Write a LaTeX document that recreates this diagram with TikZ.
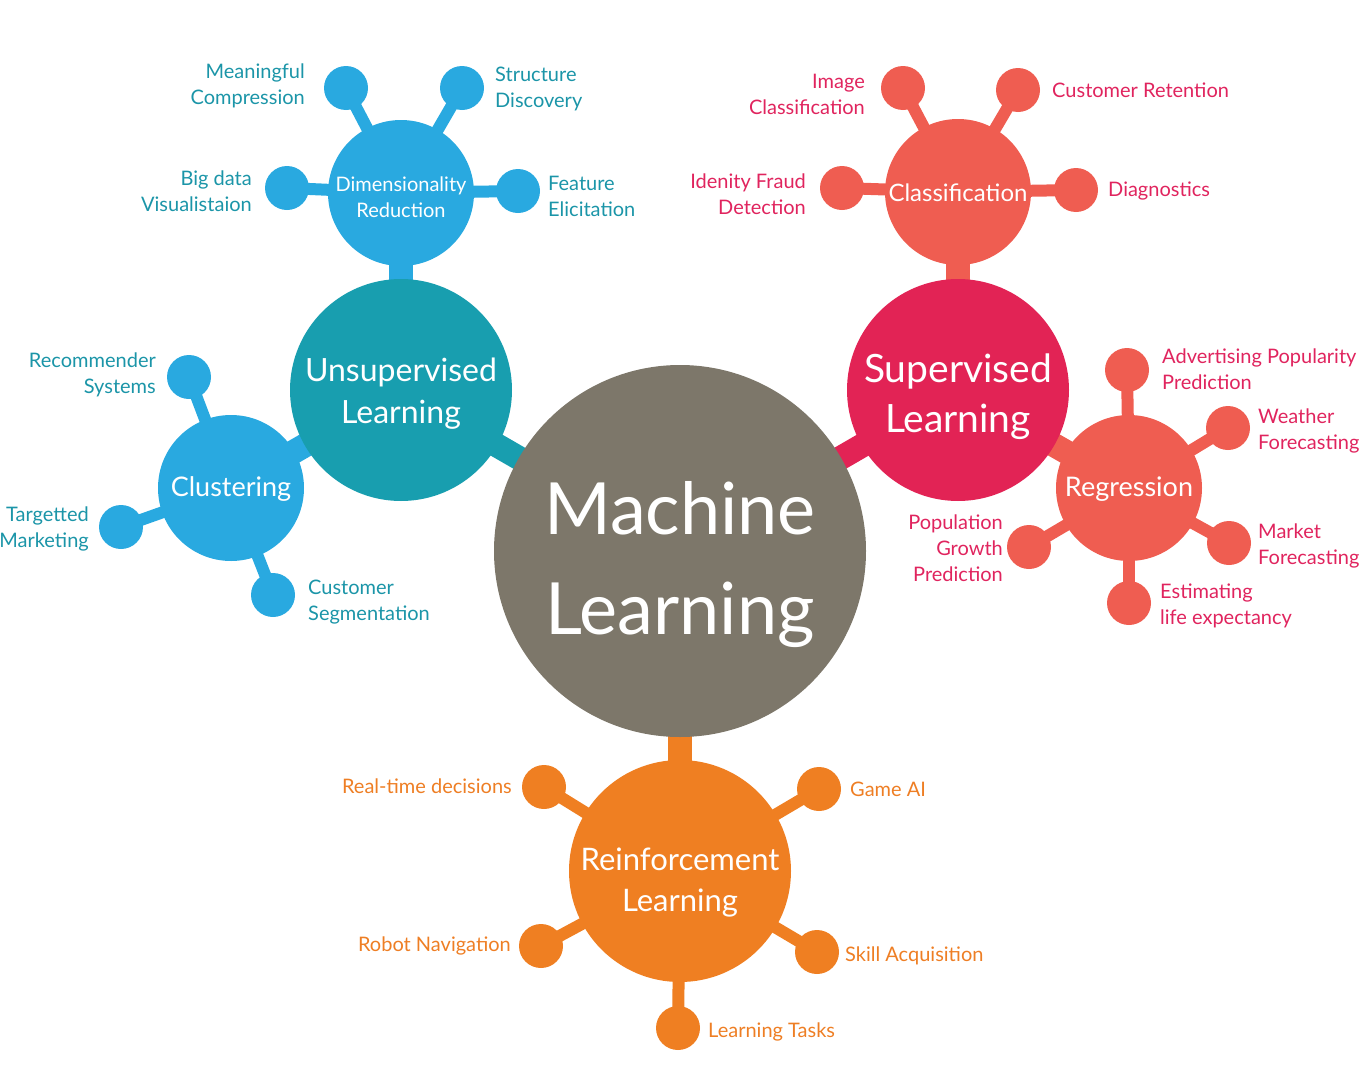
\documentclass[tikz,border=0pt]{standalone}
\usepackage{fontspec}
\setmainfont{Lato}
\usetikzlibrary{backgrounds}
\definecolor{mlgray}{HTML}{7D776A}
\definecolor{ulteal}{HTML}{189EAF}
\definecolor{ltblue}{HTML}{29A9E0}
\definecolor{tealtxt}{HTML}{1B95A8}
\definecolor{crim}{HTML}{E22355}
\definecolor{salmon}{HTML}{EF5D51}
\definecolor{crimtxt}{HTML}{E0245E}
\definecolor{orng}{HTML}{EF7F22}
\definecolor{orngtxt}{HTML}{EE7E24}
\tikzset{
  ball/.style={circle, inner sep=0pt},
  intext/.style={inner sep=0pt, text=white, align=center},
  dot/.style={circle, inner sep=0pt, minimum size=44pt},
  lbl/.style={inner sep=0pt, font=\fontsize{20}{26}\selectfont},
  lblL/.style={lbl, anchor=west, align=left},
  lblR/.style={lbl, anchor=east, align=right},
  bar/.style={line width=24pt},
  twig/.style={line width=12pt},
}
\begin{document}
\begin{tikzpicture}[x=1pt,y=-1pt]
\useasboundingbox (0,0) rectangle (1361,1071);
% main circles
\node[ball, fill=mlgray, minimum size=372pt] (ml) at (680,551) {};
\node[ball, fill=ulteal, minimum size=222pt] (ul) at (401,390) {};
\node[ball, fill=crim, minimum size=222pt] (sl) at (958,390) {};
\node[ball, fill=orng, minimum size=222pt] (rl) at (680,871) {};
\node[intext, font=\fontsize{72}{100}\selectfont] (mlt) at ([yshift=-14pt]ml.center) {Machine\\Learning};
\node[intext, font=\fontsize{32}{42}\selectfont] (ult) at ([yshift=-4pt]ul.center) {Unsupervised\\Learning};
\node[intext, font=\fontsize{39}{50}\selectfont] (slt) at ([yshift=-7pt]sl.center) {Supervised\\Learning};
\node[intext, font=\fontsize{31}{41}\selectfont] (rlt) at ([yshift=-12pt]rl.center) {Reinforcement\\Learning};
% sub circles
\node[ball, fill=ltblue, minimum size=146pt] (dr) at (401,193) {};
\node[ball, fill=ltblue, minimum size=146pt] (cl) at (231,488) {};
\node[ball, fill=salmon, minimum size=146pt] (cf) at (958,192) {};
\node[ball, fill=salmon, minimum size=146pt] (rg) at (1129,488) {};
\node[intext, font=\fontsize{20}{26}\selectfont] (drt) at ([yshift=-4pt]dr.center) {Dimensionality\\Reduction};
\node[intext, font=\fontsize{27}{32}\selectfont] (clt) at ([yshift=-1pt]cl.center) {Clustering};
\node[intext, font=\fontsize{24}{30}\selectfont] (cft) at ([yshift=-1pt]cf.center) {Classification};
\node[intext, font=\fontsize{27}{32}\selectfont] (rgt) at ([yshift=-1pt]rg.center) {Regression};
% dots - dimensionality reduction
\node[dot, fill=ltblue] (d1) at (346,88) {};
\node[dot, fill=ltblue] (d2) at (462,88) {};
\node[dot, fill=ltblue] (d3) at (287,188) {};
\node[dot, fill=ltblue] (d4) at (518,191) {};
% clustering
\node[dot, fill=ltblue] (c1) at (189,377) {};
\node[dot, fill=ltblue] (c2) at (121,527) {};
\node[dot, fill=ltblue] (c3) at (273,595) {};
% classification
\node[dot, fill=salmon] (f1) at (903,88) {};
\node[dot, fill=salmon] (f2) at (1018,90) {};
\node[dot, fill=salmon] (f3) at (842,188) {};
\node[dot, fill=salmon] (f4) at (1076,190) {};
% regression
\node[dot, fill=salmon] (g1) at (1127,370) {};
\node[dot, fill=salmon] (g2) at (1228,428) {};
\node[dot, fill=salmon] (g3) at (1229,543) {};
\node[dot, fill=salmon] (g4) at (1129,603) {};
\node[dot, fill=salmon] (g5) at (1029,547) {};
% reinforcement
\node[dot, fill=orng] (r1) at (544,787) {};
\node[dot, fill=orng] (r2) at (819,789) {};
\node[dot, fill=orng] (r3) at (541,946) {};
\node[dot, fill=orng] (r4) at (817,952) {};
\node[dot, fill=orng] (r5) at (678,1028) {};
% connectors
\begin{scope}[on background layer]
\draw[bar, ulteal] (ml.center) -- (ul.center);
\draw[bar, crim] (ml.center) -- (sl.center);
\draw[bar, orng] (ml.center) -- (rl.center);
\draw[bar, ltblue] (ul.center) -- (dr.center);
\draw[bar, ltblue] (ul.center) -- (cl.center);
\draw[bar, salmon] (sl.center) -- (cf.center);
\draw[bar, salmon] (sl.center) -- (rg.center);
\foreach \n in {d1,d2,d3,d4} \draw[twig, ltblue] (dr.center) -- (\n.center);
\foreach \n in {c1,c2,c3} \draw[twig, ltblue] (cl.center) -- (\n.center);
\foreach \n in {f1,f2,f3,f4} \draw[twig, salmon] (cf.center) -- (\n.center);
\foreach \n in {g1,g2,g3,g4,g5} \draw[twig, salmon] (rg.center) -- (\n.center);
\foreach \n in {r1,r2,r3,r4,r5} \draw[twig, orng] (rl.center) -- (\n.center);
\end{scope}
% labels - blue
\node[lblR, text=tealtxt] (t1) at (305,86) {Meaningful\\Compression};
\node[lblL, text=tealtxt] (t2) at (495,89) {Structure\\Discovery};
\node[lblR, text=tealtxt] (t3) at (252,191) {Big data\\Visualistaion};
\node[lblL, text=tealtxt] (t4) at (548,196) {Feature\\Elicitation};
\node[lblR, text=tealtxt] (t5) at (156,375) {Recommender\\Systems};
\node[lblR, text=tealtxt] (t6) at (89,529) {Targetted\\Marketing};
\node[lblL, text=tealtxt] (t7) at (308,602) {Customer\\Segmentation};
% labels - red
\node[lblR, text=crimtxt] (u1) at (865,94) {Image\\Classification};
\node[lblL, text=crimtxt] (u2) at (1052,90) {Customer Retention};
\node[lblR, text=crimtxt] (u3) at (806,194) {Idenity Fraud\\Detection};
\node[lblL, text=crimtxt] (u4) at (1108,191) {Diagnostics};
\node[lblL, text=crimtxt] (u5) at (1162,369) {Advertising Popularity\\Prediction};
\node[lblL, text=crimtxt] (u6) at (1258,431) {Weather\\Forecasting};
\node[lblL, text=crimtxt] (u7) at (1258,546) {Market\\Forecasting};
\node[lblL, text=crimtxt] (u8) at (1160,606) {Estimating\\life expectancy};
\node[lblR, text=crimtxt] (u9) at (1003,548) {Population\\Growth\\Prediction};
% labels - orange
\node[lblR, text=orngtxt] (v1) at (512,786) {Real-time decisions};
\node[lblL, text=orngtxt] (v2) at (850,789) {Game AI};
\node[lblR, text=orngtxt] (v3) at (511,946) {Robot Navigation};
\node[lblL, text=orngtxt] (v4) at (845,956) {Skill Acquisition};
\node[lblL, text=orngtxt] (v5) at (708,1032) {Learning Tasks};
\end{tikzpicture}
\end{document}
